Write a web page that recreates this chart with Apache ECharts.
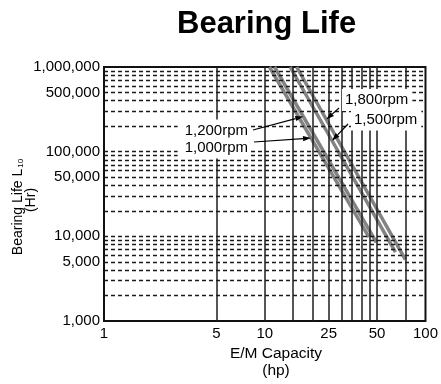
<!DOCTYPE html>
<html>
<head>
<meta charset="utf-8">
<script src="https://cdn.jsdelivr.net/npm/echarts@6/dist/echarts.min.js"></script>
<style>
  html, body { margin: 0; padding: 0; background: #fff; }
  #chart { width: 441px; height: 384px; }
</style>
</head>
<body>
<div id="chart"></div>
<script>
// Bearing life L10 (hours) against motor capacity (hp); each speed is a straight line on log-log axes
const speedNames = ['1,000rpm', '1,200rpm', '1,500rpm', '1,800rpm'];
const capacityStart = [10.7, 11.5, 14.4, 15.8];          // hp where each line leaves the top
const lifeStart = [1000000, 1000000, 1000000, 1000000];    // hours
const capacityEnd = [44.5, 49.5, 65, 75];                  // hp at the lower end of each line
const lifeEnd = [9800, 8500, 6500, 5300];                  // hours

// life (hours) at which each callout arrow meets its line
const arrowLife = [145000, 260000, 135000, 240000];

// axis labels and grid lines
const xTickValues = [1, 5, 10, 25, 50, 75, 100];
const yTickValues = [1000, 5000, 10000, 50000, 100000, 500000, 1000000];
const xGridValues = [5, 10, 15, 20, 25, 30, 35, 40, 45, 50, 75];
const yGridValues = [
  2000, 3000, 4000, 5000, 6000, 7000, 8000, 9000, 10000,
  20000, 30000, 40000, 50000, 60000, 70000, 80000, 90000, 100000,
  200000, 300000, 400000, 500000, 600000, 700000, 800000, 900000
];

const FONT = '"Liberation Sans", Arial, Helvetica, sans-serif';
const chart = echarts.init(document.getElementById('chart'), null, { renderer: 'canvas' });

const lineSeries = speedNames.map((name, i) => ({
  name: name,
  type: 'line',
  z: 2,
  data: [[capacityStart[i], lifeStart[i]], [capacityEnd[i], lifeEnd[i]]],
  symbol: 'none',
  showSymbol: false,
  silent: true,
  lineStyle: { color: '#838383', width: 3.5 }
}));

const gridSeries = [
  {
    name: 'hLines', type: 'line', data: [], z: 3, silent: true,
    markLine: {
      silent: true, symbol: 'none', animation: false,
      label: { show: false },
      lineStyle: { color: '#1a1a1a', width: 1.4, type: [4, 3] },
      data: yGridValues.map(v => ({ yAxis: v }))
    }
  },
  {
    name: 'vLines', type: 'line', data: [], z: 3, silent: true,
    markLine: {
      silent: true, symbol: 'none', animation: false,
      label: { show: false },
      lineStyle: { color: '#1e1e1e', width: 1.5, type: 'solid' },
      data: xGridValues.map(v => ({ xAxis: v }))
    }
  }
];

chart.setOption({
  animation: false,
  backgroundColor: '#fff',
  title: {
    text: 'Bearing Life',
    left: 177, top: 9, padding: 0,
    textStyle: { fontFamily: FONT, fontSize: 31, fontWeight: 'bold', color: '#000' }
  },
  grid: {
    left: 104, right: 13, top: 67, bottom: 63,
    show: true, borderColor: '#111', borderWidth: 2, backgroundColor: 'transparent'
  },
  xAxis: {
    type: 'log', logBase: 10, min: 1, max: 100,
    axisLine: { show: false }, axisTick: { show: false },
    splitLine: { show: false }, minorSplitLine: { show: false },
    axisLabel: {
      customValues: xTickValues,
      margin: 5, color: '#000', fontSize: 15, fontFamily: FONT,
      showMinLabel: true, showMaxLabel: true, hideOverlap: false,
      formatter: v => String(v)
    }
  },
  yAxis: {
    type: 'log', logBase: 10, min: 1000, max: 1000000,
    axisLine: { show: false }, axisTick: { show: false },
    splitLine: { show: false }, minorSplitLine: { show: false },
    axisLabel: {
      customValues: yTickValues,
      margin: 4, color: '#000', fontSize: 15, fontFamily: FONT,
      showMinLabel: true, showMaxLabel: true, hideOverlap: false,
      formatter: v => Number(v).toLocaleString('en-US')
    }
  },
  series: lineSeries.concat(gridSeries)
});

// capacity on line i for a given life, interpolated in log space
function capacityAt(i, life) {
  const l0 = Math.log10(lifeStart[i]), l1 = Math.log10(lifeEnd[i]);
  const c0 = Math.log10(capacityStart[i]), c1 = Math.log10(capacityEnd[i]);
  const t = (Math.log10(life) - l0) / (l1 - l0);
  return Math.pow(10, c0 + t * (c1 - c0));
}

// callout text anchors and arrow tails, in pixels
const callouts = [
  { line: 1, tx: 251, ty: 131, align: 'right', from: [253, 130], pad: [7, 3, 1, 7], z: 100 },
  { line: 0, tx: 251, ty: 148, align: 'right', from: [254, 142], pad: [1, 3, 5, 7], z: 102 },
  { line: 3, tx: 342, ty: 100, align: 'left', from: [339, 108], pad: [4, 4, 3, 3], z: 100 },
  { line: 2, tx: 351, ty: 120, align: 'left', from: [348, 124], pad: [2, 4, 4, 3], z: 102 }
];

const graphics = [];
callouts.forEach(c => {
  const life = arrowLife[c.line];
  const tip = chart.convertToPixel({ gridIndex: 0 }, [capacityAt(c.line, life), life]);
  graphics.push({
    type: 'text', z: c.z, x: c.tx, y: c.ty,
    style: {
      text: speedNames[c.line], fill: '#000', font: '15px ' + FONT,
      align: c.align, verticalAlign: 'middle',
      backgroundColor: '#fff', padding: c.pad
    }
  });
  const dx = tip[0] - c.from[0], dy = tip[1] - c.from[1];
  const len = Math.sqrt(dx * dx + dy * dy);
  const ux = dx / len, uy = dy / len;
  const headLen = 8, headHalf = 2.6;
  const bx = tip[0] - ux * headLen, by = tip[1] - uy * headLen;
  graphics.push({
    type: 'line', z: 110,
    shape: { x1: c.from[0], y1: c.from[1], x2: bx, y2: by },
    style: { stroke: '#000', lineWidth: 1.2 }
  });
  graphics.push({
    type: 'polygon', z: 110,
    shape: { points: [[tip[0], tip[1]], [bx - uy * headHalf, by + ux * headHalf], [bx + uy * headHalf, by - ux * headHalf]] },
    style: { fill: '#000' }
  });
});

// axis names
graphics.push({
  type: 'text', z: 100, x: 276, y: 362,
  style: {
    text: 'E/M Capacity\n(hp)', fill: '#000', font: '15.5px ' + FONT,
    align: 'center', verticalAlign: 'middle', lineHeight: 17
  }
});
graphics.push({
  type: 'text', z: 100, x: 18, y: 207, rotation: Math.PI / 2,
  style: {
    text: 'Bearing Life L{sub|10}', fill: '#000', font: '14px ' + FONT,
    align: 'center', verticalAlign: 'middle',
    rich: { sub: { fontSize: 8, fontFamily: FONT, fill: '#000', padding: [5, 0, 0, 1] } }
  }
});
graphics.push({
  type: 'text', z: 100, x: 31, y: 200, rotation: Math.PI / 2,
  style: {
    text: '(Hr)', fill: '#000', font: '14px ' + FONT,
    align: 'center', verticalAlign: 'middle'
  }
});

chart.setOption({ graphic: graphics });
</script>
</body>
</html>
